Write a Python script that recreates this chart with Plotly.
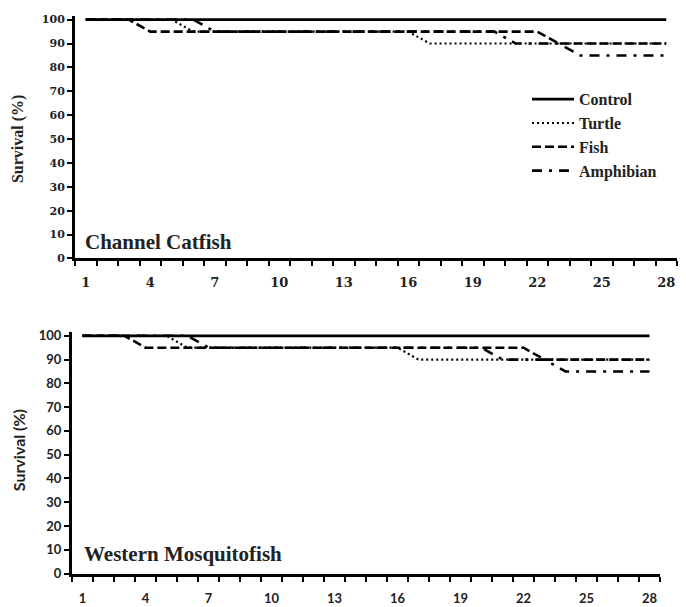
import plotly.graph_objects as go

days = list(range(1, 29))

# Channel Catfish survival (%)
cc_control = [100] * 28
cc_turtle = [100] * 5 + [95] * 11 + [90] * 12
cc_fish = [100] * 3 + [95] * 19 + [90] * 6
cc_amphibian = [100] * 6 + [95] * 14 + [90] * 3 + [85] * 5

# Western Mosquitofish survival (%)
wm_control = [100] * 28
wm_turtle = [100] * 5 + [95] * 11 + [90] * 12
wm_fish = [100] * 3 + [95] * 19 + [90] * 6
wm_amphibian = [100] * 6 + [95] * 14 + [90] * 3 + [85] * 5

series_names = ["Control", "Turtle", "Fish", "Amphibian"]
x_tick_labels = [1, 4, 7, 10, 13, 16, 19, 22, 25, 28]
y_ticks = list(range(0, 101, 10))

dashes = ["solid", "2px,3px", "9px,4px", "10px,7px,3px,7px"]
widths = [2.7, 2.2, 2.6, 2.6]

fig = go.Figure()
top = [cc_control, cc_turtle, cc_fish, cc_amphibian]
bot = [wm_control, wm_turtle, wm_fish, wm_amphibian]
for name, vals, d, w in zip(series_names, top, dashes, widths):
    fig.add_trace(go.Scatter(x=days, y=vals, mode="lines", name=name,
                             line=dict(color="black", dash=d, width=w),
                             xaxis="x", yaxis="y", showlegend=True))
for name, vals, d, w in zip(series_names, bot, dashes, widths):
    fig.add_trace(go.Scatter(x=days, y=vals, mode="lines", name=name,
                             line=dict(color="black", dash=d, width=w),
                             xaxis="x2", yaxis="y2", showlegend=False))

serif = "DejaVu Serif"
serif2 = "Liberation Serif"
sans = "Lato"

def xaxis(domain, anchor, fam, size, standoff):
    return dict(domain=domain, anchor=anchor, range=[0.5, 28.5],
                tickmode="array", tickvals=x_tick_labels,
                ticktext=[str(v) for v in x_tick_labels],
                ticks="outside", ticklen=0, showgrid=False, zeroline=False,
                showline=True, linecolor="black", linewidth=3,
                ticklabelstandoff=standoff,
                tickfont=dict(family=fam, size=size, color="#222", weight="bold"),
                minor=dict(tick0=0.5, dtick=1, ticks="outside", ticklen=5,
                           tickwidth=2, tickcolor="black", showgrid=False))

def yaxis(domain, anchor, fam, size):
    return dict(domain=domain, anchor=anchor, range=[0, 101.5],
                tickmode="array", tickvals=y_ticks,
                ticks="outside", ticklen=5, tickwidth=2, tickcolor="black",
                showgrid=False, zeroline=False,
                showline=True, linecolor="black", linewidth=3,
                tickfont=dict(family=fam, size=size, color="#222", weight="bold"))

fig.update_layout(
    width=686, height=607, margin=dict(l=0, r=0, t=0, b=0),
    plot_bgcolor="white", paper_bgcolor="white",
    xaxis=xaxis([75 / 686, 677 / 686], "y", serif, 13, 10),
    yaxis=yaxis([348 / 607, (348 + 247.7) / 607], "x", serif, 11),
    xaxis2=xaxis([72 / 686, 660 / 686], "y2", sans, 13, 11),
    yaxis2=yaxis([26 / 607, (26 + 246.6) / 607], "x2", sans, 13),
    legend=dict(x=527 / 686, y=1 - 79 / 607, xanchor="left", yanchor="top",
                bgcolor="rgba(0,0,0,0)", itemwidth=42, tracegroupgap=0,
                font=dict(family=serif2, size=16, color="#222", weight="bold")),
    annotations=[
        dict(text="Survival (%)", textangle=-90, x=18 / 686, y=1 - 137 / 607,
             xref="paper", yref="paper", xanchor="center", yanchor="middle",
             showarrow=False,
             font=dict(family=serif2, size=16, color="#222", weight="bold")),
        dict(text="Survival (%)", textangle=-90, x=18 / 686, y=1 - 455 / 607,
             xref="paper", yref="paper", xanchor="center", yanchor="middle",
             showarrow=False,
             font=dict(family=sans, size=16, color="#222", weight="bold")),
        dict(text="Channel Catfish", x=83 / 686, y=1 - 242 / 607,
             xref="paper", yref="paper", xanchor="left", yanchor="middle",
             showarrow=False,
             font=dict(family=serif2, size=21, color="#222", weight="bold")),
        dict(text="Western Mosquitofish", x=82 / 686, y=1 - 561 / 607,
             xref="paper", yref="paper", xanchor="left", yanchor="middle",
             showarrow=False,
             font=dict(family=serif2, size=21, color="#222", weight="bold")),
    ],
)

fig.write_html("out.html")
